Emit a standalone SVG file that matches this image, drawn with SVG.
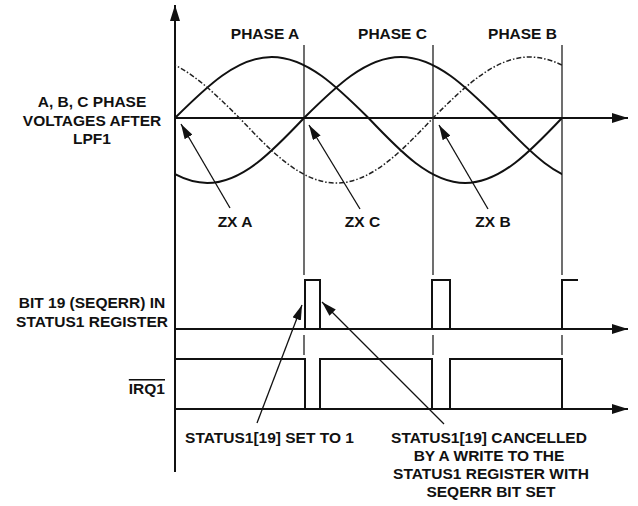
<svg xmlns="http://www.w3.org/2000/svg" width="638" height="506" viewBox="0 0 638 506">
<style>
text{font-family:"Liberation Sans",Arial,sans-serif;font-weight:bold;font-size:15.5px;fill:#111}
.c{text-anchor:middle}
.ax{stroke:#111;stroke-width:2;fill:none}
.wv{stroke:#111;stroke-width:2;fill:none}
.dd{stroke:#222;stroke-width:1.5;fill:none;stroke-dasharray:5 2 1.5 2}
.ph{stroke:#222;stroke-width:1.3;fill:none}
.co{stroke:#111;stroke-width:1.3;fill:none;marker-end:url(#ca)}
</style>
<defs>
<marker id="aa" markerUnits="userSpaceOnUse" markerWidth="16" markerHeight="10" refX="16" refY="5" orient="auto"><path d="M0,0 L16,5 L0,10 Z" fill="#111"/></marker>
<marker id="ca" markerUnits="userSpaceOnUse" markerWidth="15" markerHeight="9" refX="15" refY="4.5" orient="auto"><path d="M0,0 L15,4.5 L0,9 Z" fill="#111"/></marker>
<clipPath id="win"><rect x="175" y="0" width="387" height="300"/></clipPath>
</defs>
<g id="phase-lines">
<path class="ph" d="M304,45 V275 M433,45 V275 M562,45 V275 M304,335 V355 M433,335 V355 M562,335 V355"/>
</g>
<g id="axes">
<path class="ax" d="M175,472 V5" marker-end="url(#aa)"/>
<path class="ax" d="M175,118 H628" marker-end="url(#aa)"/>
<path class="ax" d="M175,329 H628" marker-end="url(#aa)"/>
<path class="ax" d="M175,409 H628" marker-end="url(#aa)"/>
</g>
<g id="waveforms" clip-path="url(#win)">
<path id="phase-a-wave" class="wv" d="M175,118 C206.55,86.75 236.74,57 271.75,57 C306.76,57 336.95,86.75 368.5,118 C400.05,151.3 430.24,183 465.25,183 C500.26,183 530.45,151.3 562,118"/>
<path id="phase-c-wave" class="wv" d="M110.5,118 C142.05,151.3 172.24,183 207.25,183 C242.26,183 272.45,151.3 304,118 C335.55,86.75 365.74,57 400.75,57 C435.76,57 465.95,86.75 497.5,118 C529.05,151.3 559.24,183 594.25,183"/>
<path id="phase-b-wave" class="dd" d="M46,118 C77.55,86.75 107.74,57 142.75,57 C177.76,57 207.95,86.75 239.5,118 C271.05,151.3 301.24,183 336.25,183 C371.26,183 401.45,151.3 433,118 C464.55,86.75 494.74,57 529.75,57 C564.76,57 594.95,86.75 626.5,118"/>
</g>
<g id="seqerr-bit">
<path class="ax" d="M305,329 V280 H320 V329 M432,329 V280 H450 V329 M562,329 V280 H578"/>
</g>
<g id="irq1-signal">
<path class="ax" d="M175,359 H305 V409 M320,409 V359 H432 V409 M450,409 V359 H562 V409"/>
</g>
<g id="labels">
<text class="c" x="265" y="39">PHASE A</text>
<text class="c" x="392.5" y="39">PHASE C</text>
<text class="c" x="522.5" y="39">PHASE B</text>
<text class="c" x="92" y="107">A, B, C PHASE</text>
<text class="c" x="92" y="126">VOLTAGES AFTER</text>
<text class="c" x="92" y="144">LPF1</text>
<text class="c" x="235" y="227">ZX A</text>
<text class="c" x="362.5" y="227">ZX C</text>
<text class="c" x="493" y="227">ZX B</text>
<text class="c" x="92" y="308">BIT 19 (SEQERR) IN</text>
<text class="c" x="92" y="327">STATUS1 REGISTER</text>
<text x="165" y="394" text-anchor="end" text-decoration="overline">IRQ1</text>
<text class="c" x="269.5" y="443">STATUS1[19] SET TO 1</text>
<text class="c" x="489" y="443">STATUS1[19] CANCELLED</text>
<text class="c" x="489" y="461">BY A WRITE TO THE</text>
<text class="c" x="491" y="479">STATUS1 REGISTER WITH</text>
<text class="c" x="491" y="497">SEQERR BIT SET</text>
</g>
<g id="connectors">
<path class="co" d="M230,208 L181,124"/>
<path class="co" d="M360,209 L309,125"/>
<path class="co" d="M488,209 L439,125"/>
<path class="co" d="M257,423 L302,305"/>
<path class="co" d="M444,424 L322,302"/>
</g>
</svg>
